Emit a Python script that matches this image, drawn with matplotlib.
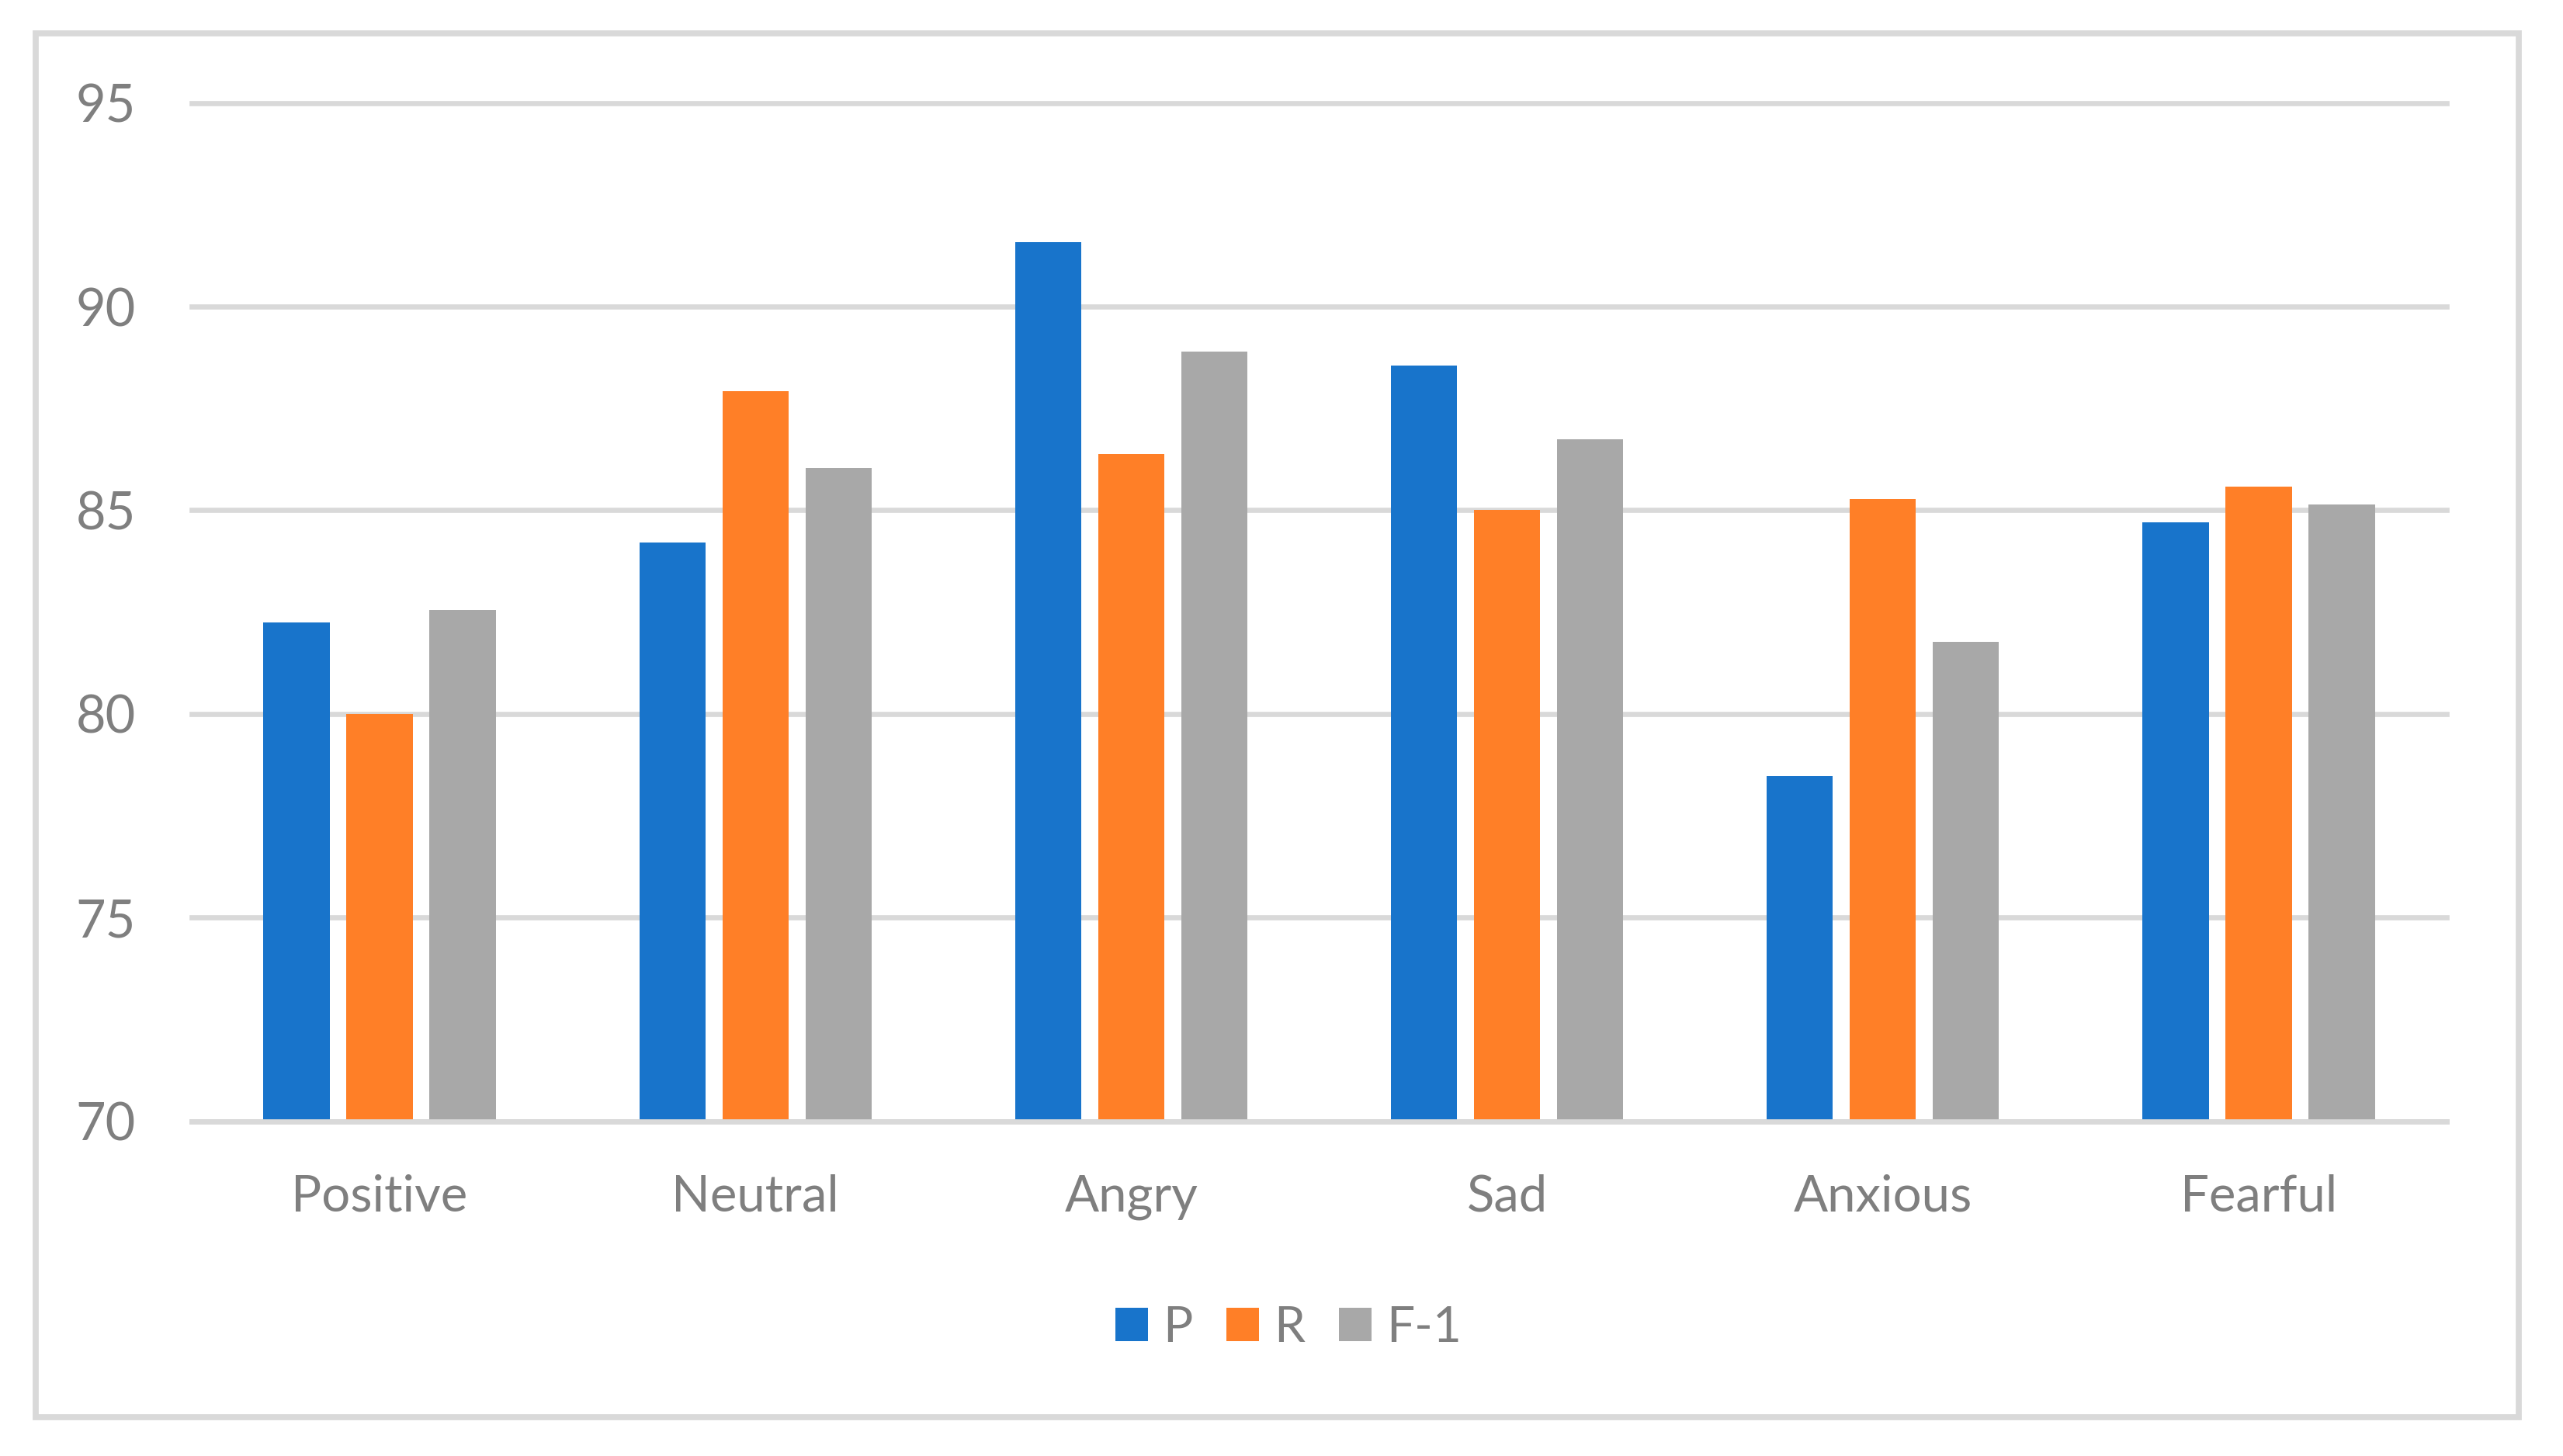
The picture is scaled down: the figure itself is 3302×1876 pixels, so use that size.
import matplotlib
matplotlib.use("Agg")
import matplotlib.pyplot as plt
import numpy as np

categories = ["Positive", "Neutral", "Angry", "Sad", "Anxious", "Fearful"]
p_values = [82.25, 84.2, 91.58, 88.55, 78.47, 84.7]
r_values = [80.0, 87.92, 86.38, 85.0, 85.28, 85.58]
f1_values = [82.55, 86.04, 88.89, 86.74, 81.77, 85.14]
series_names = ["P", "R", "F-1"]
colors = ["#1874CB", "#FF7F27", "#A8A8A8"]

plt.rcParams['font.family'] = ['Lato', 'DejaVu Sans']
text_color = "#7F7F7F"
grid_color = "#D9D9D9"

fig = plt.figure(figsize=(16.51, 9.38), dpi=200)
ax = fig.add_axes([0.0748, 0.2300, 0.8798, 0.6993])

x = np.arange(len(categories))
step = 0.221
width = 0.176
for j, (vals, name, col) in enumerate(zip([p_values, r_values, f1_values], series_names, colors)):
    ax.bar(x + (j - 1) * step, vals, width=width, color=col, label=name, zorder=2)

ax.set_xlim(-0.5, len(categories) - 0.5)
ax.set_ylim(70, 95)
ax.set_yticks([70, 75, 80, 85, 90, 95])
ax.set_xticks(x)
ax.set_xticklabels(categories)

ax.set_axisbelow(True)
ax.yaxis.grid(True, color=grid_color, linewidth=2.4)
for gl in ax.get_ygridlines():
    gl.set_clip_on(False)

for side in ["top", "left", "right"]:
    ax.spines[side].set_visible(False)
ax.spines["bottom"].set_color(grid_color)
ax.spines["bottom"].set_linewidth(2.4)
ax.spines["bottom"].set_zorder(3)

ax.tick_params(axis="y", length=0, pad=26, labelsize=24, labelcolor=text_color)
ax.tick_params(axis="x", length=0, pad=24.5, labelsize=23.5, labelcolor=text_color)

leg = fig.legend(loc="center", bbox_to_anchor=(0.5027, 0.0880), ncol=3, frameon=False,
                 fontsize=23, handlelength=0.66, handleheight=0.66,
                 handletextpad=0.3, columnspacing=0.68, labelcolor=text_color)

# outer chart frame
frame = plt.Rectangle((46 / 3302, 1 - 1826 / 1876), (3245 - 46) / 3302, (1826 - 43) / 1876,
                      transform=fig.transFigure, fill=False, edgecolor=grid_color,
                      linewidth=2.8, zorder=0)
fig.patches.append(frame)

fig.savefig("out.png", dpi=200, facecolor="white")
